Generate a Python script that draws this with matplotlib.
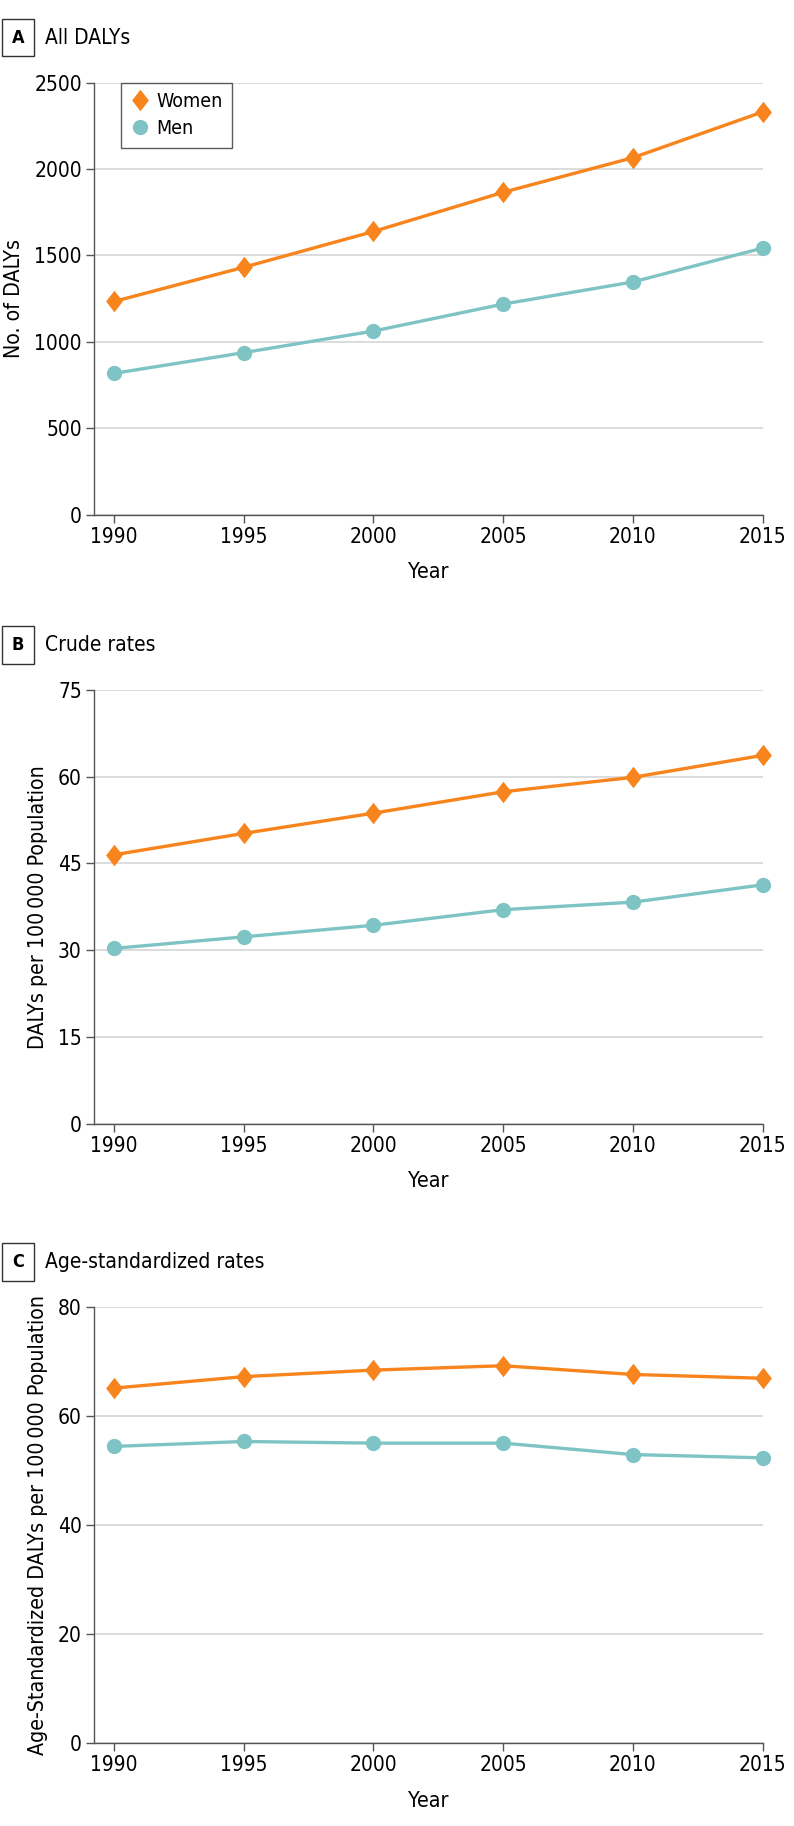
import matplotlib.pyplot as plt
from matplotlib.path import Path

# Data
years = [1990, 1995, 2000, 2005, 2010, 2015]

dalys_women = [1233, 1431, 1638, 1865, 2065, 2330]
dalys_men = [817, 937, 1062, 1218, 1346, 1542]

crude_women = [46.5, 50.2, 53.7, 57.4, 59.9, 63.7]
crude_men = [30.3, 32.3, 34.3, 37.0, 38.3, 41.3]

agestd_women = [65.1, 67.2, 68.4, 69.2, 67.6, 66.9]
agestd_men = [54.4, 55.3, 55.0, 55.0, 52.9, 52.3]

panel_letters = ['A', 'B', 'C']
panel_titles = ['All DALYs', 'Crude rates', 'Age-standardized rates']
y_labels = ['No. of DALYs', 'DALYs per 100\u2009000 Population',
            'Age-Standardized DALYs per 100\u2009000 Population']
y_ticks = [[0, 500, 1000, 1500, 2000, 2500],
           [0, 15, 30, 45, 60, 75],
           [0, 20, 40, 60, 80]]

# Styling
plt.rcParams['font.family'] = ['DejaVu Sans']
plt.rcParams['font.stretch'] = 'condensed'
orange = '#F7841C'
teal = '#7FC4C4'
spine_col = '#555555'
grid_col = '#D9D9D9'
diamond = Path([(0, 1), (0.78, 0), (0, -1), (-0.78, 0), (0, 1)],
               [Path.MOVETO, Path.LINETO, Path.LINETO, Path.LINETO, Path.CLOSEPOLY])

fig = plt.figure(figsize=(7.94, 18.26), dpi=100)

left, width = 0.1188, 0.8417
boxes = [(0.7182, 0.2366), (0.3847, 0.2374), (0.0455, 0.2388)]
series = [(dalys_women, dalys_men), (crude_women, crude_men), (agestd_women, agestd_men)]

for i in range(3):
    bottom, height = boxes[i]
    ax = fig.add_axes([left, bottom, width, height])
    w, m = series[i]
    ax.plot(years, w, color=orange, lw=2.4, marker=diamond, ms=15.5,
            markeredgewidth=0, label='Women', clip_on=False, zorder=3)
    ax.plot(years, m, color=teal, lw=2.4, marker='o', ms=11,
            markeredgewidth=0, label='Men', clip_on=False, zorder=3)

    ax.set_xlim(1989.24, 2015)
    ax.set_ylim(y_ticks[i][0], y_ticks[i][-1])
    ax.set_xticks(years)
    ax.set_yticks(y_ticks[i])
    ax.tick_params(labelsize=15, color=spine_col, length=6, width=1, pad=3)
    ax.grid(axis='y', color=grid_col, lw=1.3)
    ax.set_axisbelow(True)
    for s in ['top', 'right']:
        ax.spines[s].set_visible(False)
    for s in ['left', 'bottom']:
        ax.spines[s].set_color(spine_col)
        ax.spines[s].set_linewidth(1)
    ax.set_xlabel('Year', fontsize=15.5, labelpad=11)
    ax.set_ylabel(y_labels[i], fontsize=15.3, labelpad=7)

    # Panel label box and title
    top_px = (1 - (bottom + height)) * 1826
    y_title = 1 - (top_px - 45) / 1826
    fig.text(0.0225, y_title, panel_letters[i], fontsize=13, fontweight='bold',
             ha='center', va='center',
             bbox=dict(boxstyle='square,pad=0.55', fc='white', ec='#333333', lw=1))
    fig.text(0.057, y_title, panel_titles[i], fontsize=15, ha='left', va='center')

    if i == 0:
        leg = ax.legend(loc='upper left', bbox_to_anchor=(0.04, 1.0), fontsize=14,
                        frameon=True, fancybox=False, edgecolor='#333333',
                        handlelength=0.9, handletextpad=0.4, borderpad=0.5,
                        labelspacing=0.4, borderaxespad=0)
        leg.get_frame().set_linewidth(1)
        for h in leg.legend_handles:
            h.set_linestyle('none')

plt.savefig('out.png', dpi=100)
